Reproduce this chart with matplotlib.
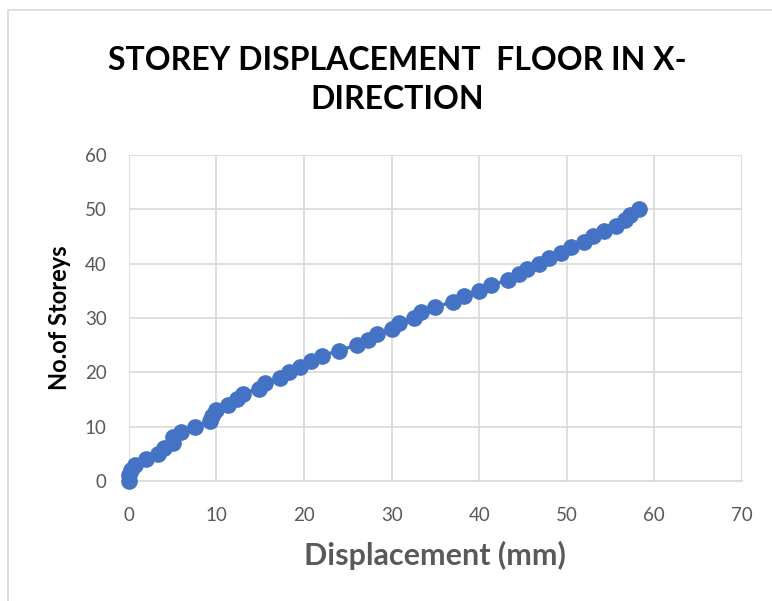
import matplotlib.pyplot as plt
from matplotlib.patches import Rectangle

# storey displacement readings (mm) for storeys 0..50
storeys = list(range(0, 51))
displacement = [0, 0, 0.2, 0.7, 2.0, 3.3, 4.0, 5.0, 5.0, 6.0,
                7.5, 9.3, 9.5, 10.0, 11.3, 12.3, 13.0, 14.8, 15.5, 17.3,
                18.3, 19.5, 20.8, 22.0, 24.0, 26.0, 27.3, 28.3, 30.0, 30.8,
                32.5, 33.3, 35.0, 37.0, 38.3, 40.0, 41.3, 43.3, 44.5, 45.5,
                46.8, 48.0, 49.3, 50.5, 52.0, 53.0, 54.3, 55.6, 56.7, 57.2,
                58.2]

xticks = [0, 10, 20, 30, 40, 50, 60, 70]
yticks = [0, 10, 20, 30, 40, 50, 60]

plt.rcParams['font.family'] = ['Lato', 'DejaVu Sans']

fig = plt.figure(figsize=(7.72, 6.01), dpi=100)
ax = fig.add_axes([0.167, 0.2, 0.794, 0.542])

# outer chart border
fig.patches.append(Rectangle((0.010, -0.01), 1.0, 0.994, transform=fig.transFigure,
                             fill=False, edgecolor='#d9d9d9', linewidth=1.2))

ax.plot(displacement, storeys, color='#4472C4', linewidth=2.5,
        marker='o', markersize=11, zorder=3, clip_on=False)

ax.set_xlim(0, 70)
ax.set_ylim(0, 60)
ax.set_xticks(xticks)
ax.set_yticks(yticks)
ax.grid(True, color='#d9d9d9', linewidth=1.2)
ax.set_axisbelow(True)
for s in ['top', 'right', 'left']:
    ax.spines[s].set_visible(False)
ax.spines['bottom'].set_color('#d9d9d9')
ax.spines['bottom'].set_linewidth(1.2)
ax.tick_params(length=0, labelsize=13.5, labelcolor='#595959')
ax.tick_params(axis='x', pad=19)
ax.tick_params(axis='y', pad=16)

ax.set_xlabel('Displacement (mm)', fontsize=22, fontweight='bold', color='#595959')
ax.set_ylabel('No.of Storeys', fontsize=17, fontweight='bold', color='black')
ax.xaxis.set_label_coords(0.5, -0.185)
ax.yaxis.set_label_coords(-0.095, 0.5)

fig.text(0.515, 0.9, 'STOREY DISPLACEMENT  FLOOR IN X-', ha='center', va='center',
         fontsize=23, fontweight='bold')
fig.text(0.515, 0.834, 'DIRECTION', ha='center', va='center',
         fontsize=23, fontweight='bold')

plt.savefig('out.png', dpi=100)
